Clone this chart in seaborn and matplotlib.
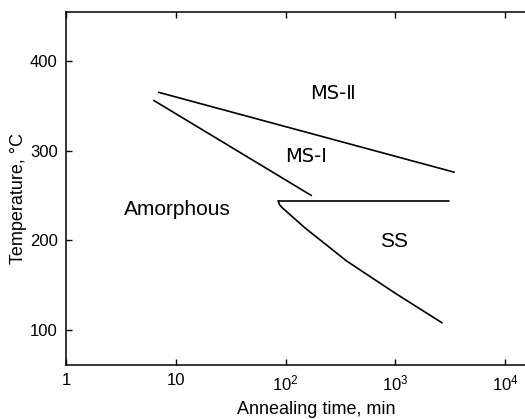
# Phase diagram: annealing time vs temperature
import numpy as np
import pandas as pd
import matplotlib
matplotlib.use("Agg")
import matplotlib.pyplot as plt
import seaborn as sns

# ==============================
# Data
# ==============================
ms2_time = [7.0, 3440]
ms2_temp = [365, 276]

ms1_time = [6.3, 172]
ms1_temp = [356, 250]

flat_time = [86, 3100]
flat_temp = [244, 244]

ss_time = [86, 88, 94, 150, 360, 1000, 2670]
ss_temp = [244, 240, 236, 214, 177, 141, 108]

x_ticks = [1, 10, 100, 1000, 10000]
x_tick_labels = ["1", "10", "$10^2$", "$10^3$", "$10^4$"]
y_ticks = [100, 200, 300, 400]

region_names = ["MS-Ⅱ", "MS-Ⅰ", "Amorphous", "SS"]
region_time = [271, 154, 10.4, 975]
region_temp = [357.5, 287, 228, 192.5]

# ==============================
# Style
# ==============================
sns.set_theme(style="ticks")
plt.rcParams["font.family"] = ["Liberation Sans", "DejaVu Sans"]
plt.rcParams["mathtext.fontset"] = "custom"
plt.rcParams["mathtext.rm"] = "Liberation Sans"
plt.rcParams["mathtext.it"] = "Liberation Sans"


def main():
    fig = plt.figure(figsize=(5.25, 4.19), dpi=100)
    ax = fig.add_axes([66 / 525, 1 - 365 / 419, 1 - 66 / 525, (365 - 12) / 419])

    for t, T in [(ms2_time, ms2_temp), (ms1_time, ms1_temp),
                 (flat_time, flat_temp), (ss_time, ss_temp)]:
        df = pd.DataFrame({"time": t, "temp": T})
        sns.lineplot(data=df, x="time", y="temp", sort=False,
                     color="black", linewidth=1.2, ax=ax)

    for name, t, T in zip(region_names, region_time, region_temp):
        # roman numerals drawn with DejaVu (serifed bars like the original)
        fam = ["DejaVu Sans"] if name.startswith("MS") else ["Liberation Sans"]
        ax.text(t, T, name, ha="center", va="baseline",
                fontsize=14 if name.startswith("MS") else 15,
                family=fam, color="black")

    ax.set_xscale("log")
    ax.set_xlim(1, 10 ** 4.182)
    ax.set_ylim(61, 454.6)
    ax.set_xticks(x_ticks)
    ax.set_xticklabels(x_tick_labels)
    ax.xaxis.set_minor_locator(matplotlib.ticker.NullLocator())
    ax.set_yticks(y_ticks)

    ax.tick_params(direction="in", top=True, right=False, length=4,
                   width=1, labelsize=12, colors="black", pad=6)
    ax.spines["right"].set_visible(False)
    for s in ["left", "bottom", "top"]:
        ax.spines[s].set_color("black")
        ax.spines[s].set_linewidth(1.1)

    ax.set_xlabel("Annealing time, min", fontsize=13, color="black")
    ax.set_ylabel("Temperature, °C", fontsize=13, color="black")
    ax.xaxis.set_label_coords((316 - 66) / (525 - 66), -(401 - 365) / 353)
    ax.yaxis.set_label_coords(-(66 - 27) / 459, (365 - 198) / 353)

    fig.savefig("out.png", dpi=100)


if __name__ == "__main__":
    main()
